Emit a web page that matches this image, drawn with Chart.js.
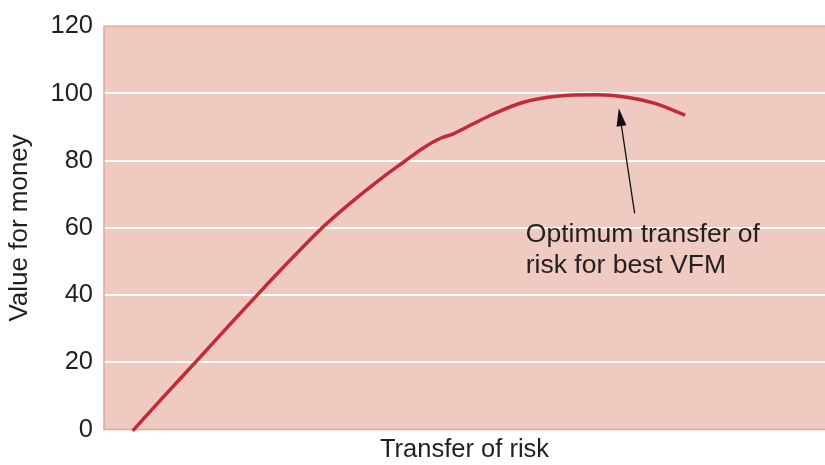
<!DOCTYPE html>
<html>
<head>
<meta charset="utf-8">
<script src="https://cdn.jsdelivr.net/npm/chart.js@4"></script>
<style>
  html, body { margin: 0; padding: 0; background: #fff; }
  #wrap { width: 825px; height: 465px; }
</style>
</head>
<body>
<div id="wrap"><canvas id="vfmChart" width="825" height="465"></canvas></div>
<script>
// curve (x = transfer of risk, 0-100 across the plot)
const riskTransfer = [3.97, 8.37, 12.76, 17.06, 21.36, 25.73, 30.19, 34.12, 38.74, 41.75, 44.29, 46.6, 48.45, 51.22, 54.0, 58.16, 62.79, 68.34, 72.5, 76.19, 80.6];
const valueForMoney = [-0.4, 10.0, 20.2, 30.3, 40.3, 50.2, 59.9, 67.3, 75.2, 79.9, 83.8, 86.6, 88.0, 91.0, 93.9, 97.4, 99.2, 99.6, 98.9, 97.2, 93.6];
const yTicks = [0, 20, 40, 60, 80, 100, 120];

const noteLines = ['Optimum transfer of', 'risk for best VFM'];

const plotBg = '#eecac0';
const plotEdge = '#e4a898';
const textCol = '#231f20';
const fontFam = '"Liberation Sans", Arial, sans-serif';

const points = riskTransfer.map((x, i) => ({ x: x, y: valueForMoney[i] }));

// pink panel behind the grid
const panel = {
    id: 'panel',
    beforeDraw(chart) {
        const { ctx, chartArea: a } = chart;
        ctx.save();
        ctx.fillStyle = plotBg;
        ctx.fillRect(a.left, a.top, a.right - a.left, a.bottom - a.top);
        ctx.restore();
    },
    beforeDatasetsDraw(chart) {
        const { ctx, chartArea: a } = chart;
        ctx.save();
        ctx.strokeStyle = plotEdge;
        ctx.lineWidth = 1.5;
        ctx.beginPath();
        ctx.moveTo(a.right, a.top);
        ctx.lineTo(a.left, a.top);
        ctx.lineTo(a.left, a.bottom);
        ctx.lineTo(a.right, a.bottom);
        ctx.stroke();
        ctx.restore();
    }
};

// arrow and label pointing at the peak
const note = {
    id: 'note',
    afterDatasetsDraw(chart) {
        const { ctx, scales: { x, y } } = chart;
        const tipX = x.getPixelForValue(71.4), tipY = y.getPixelForValue(95.6);
        const tailX = x.getPixelForValue(73.6), tailY = y.getPixelForValue(64.3);
        const ang = Math.atan2(tipY - tailY, tipX - tailX);
        const headLen = 18, headW = 5;
        ctx.save();
        ctx.strokeStyle = '#111';
        ctx.fillStyle = '#111';
        ctx.lineWidth = 1.3;
        ctx.beginPath();
        ctx.moveTo(tailX, tailY);
        ctx.lineTo(tipX - Math.cos(ang) * headLen * 0.8, tipY - Math.sin(ang) * headLen * 0.8);
        ctx.stroke();
        const bx = tipX - Math.cos(ang) * headLen, by = tipY - Math.sin(ang) * headLen;
        ctx.beginPath();
        ctx.moveTo(tipX, tipY);
        ctx.lineTo(bx + Math.sin(ang) * headW, by - Math.cos(ang) * headW);
        ctx.lineTo(bx - Math.sin(ang) * headW, by + Math.cos(ang) * headW);
        ctx.closePath();
        ctx.fill();

        ctx.fillStyle = textCol;
        ctx.font = '26.5px ' + fontFam;
        ctx.textBaseline = 'alphabetic';
        ctx.textAlign = 'left';
        const lx = x.getPixelForValue(58.5);
        const ly = y.getPixelForValue(55.7);
        noteLines.forEach((t, i) => ctx.fillText(t, lx, ly + i * 31));
        ctx.restore();
    }
};

new Chart(document.getElementById('vfmChart'), {
    type: 'line',
    data: {
        datasets: [{
            data: points,
            borderColor: '#c32a35',
            borderWidth: 3.5,
            pointRadius: 0,
            cubicInterpolationMode: 'monotone',
            fill: false,
            clip: false
        }]
    },
    options: {
        responsive: false,
        animation: false,
        layout: { padding: { top: 23.5, right: 0, left: 0, bottom: 0 } },
        plugins: { legend: { display: false }, tooltip: { enabled: false } },
        scales: {
            x: {
                type: 'linear',
                min: 0,
                max: 100,
                grid: { display: false },
                border: { display: false },
                ticks: { display: false },
                title: {
                    display: true,
                    text: 'Transfer of risk',
                    color: textCol,
                    font: { family: fontFam, size: 25.5 },
                    padding: { top: 0, bottom: 0 }
                },
                afterFit(scale) { scale.height = 35.5; }
            },
            y: {
                min: 0,
                max: 120,
                afterBuildTicks(scale) { scale.ticks = yTicks.map(v => ({ value: v })); },
                grid: {
                    color: ctx => (ctx.tick.value === 0 || ctx.tick.value === 120) ? 'rgba(0,0,0,0)' : '#ffffff',
                    lineWidth: 2,
                    drawTicks: false
                },
                border: { display: false },
                ticks: {
                    color: textCol,
                    padding: 11,
                    font: { family: fontFam, size: 25.5 }
                },
                title: {
                    display: true,
                    text: 'Value for money',
                    color: textCol,
                    font: { family: fontFam, size: 26 },
                    padding: { top: 4, bottom: 0 }
                },
                afterFit(scale) { scale.width = 104; }
            }
        }
    },
    plugins: [panel, note]
});
</script>
</body>
</html>
